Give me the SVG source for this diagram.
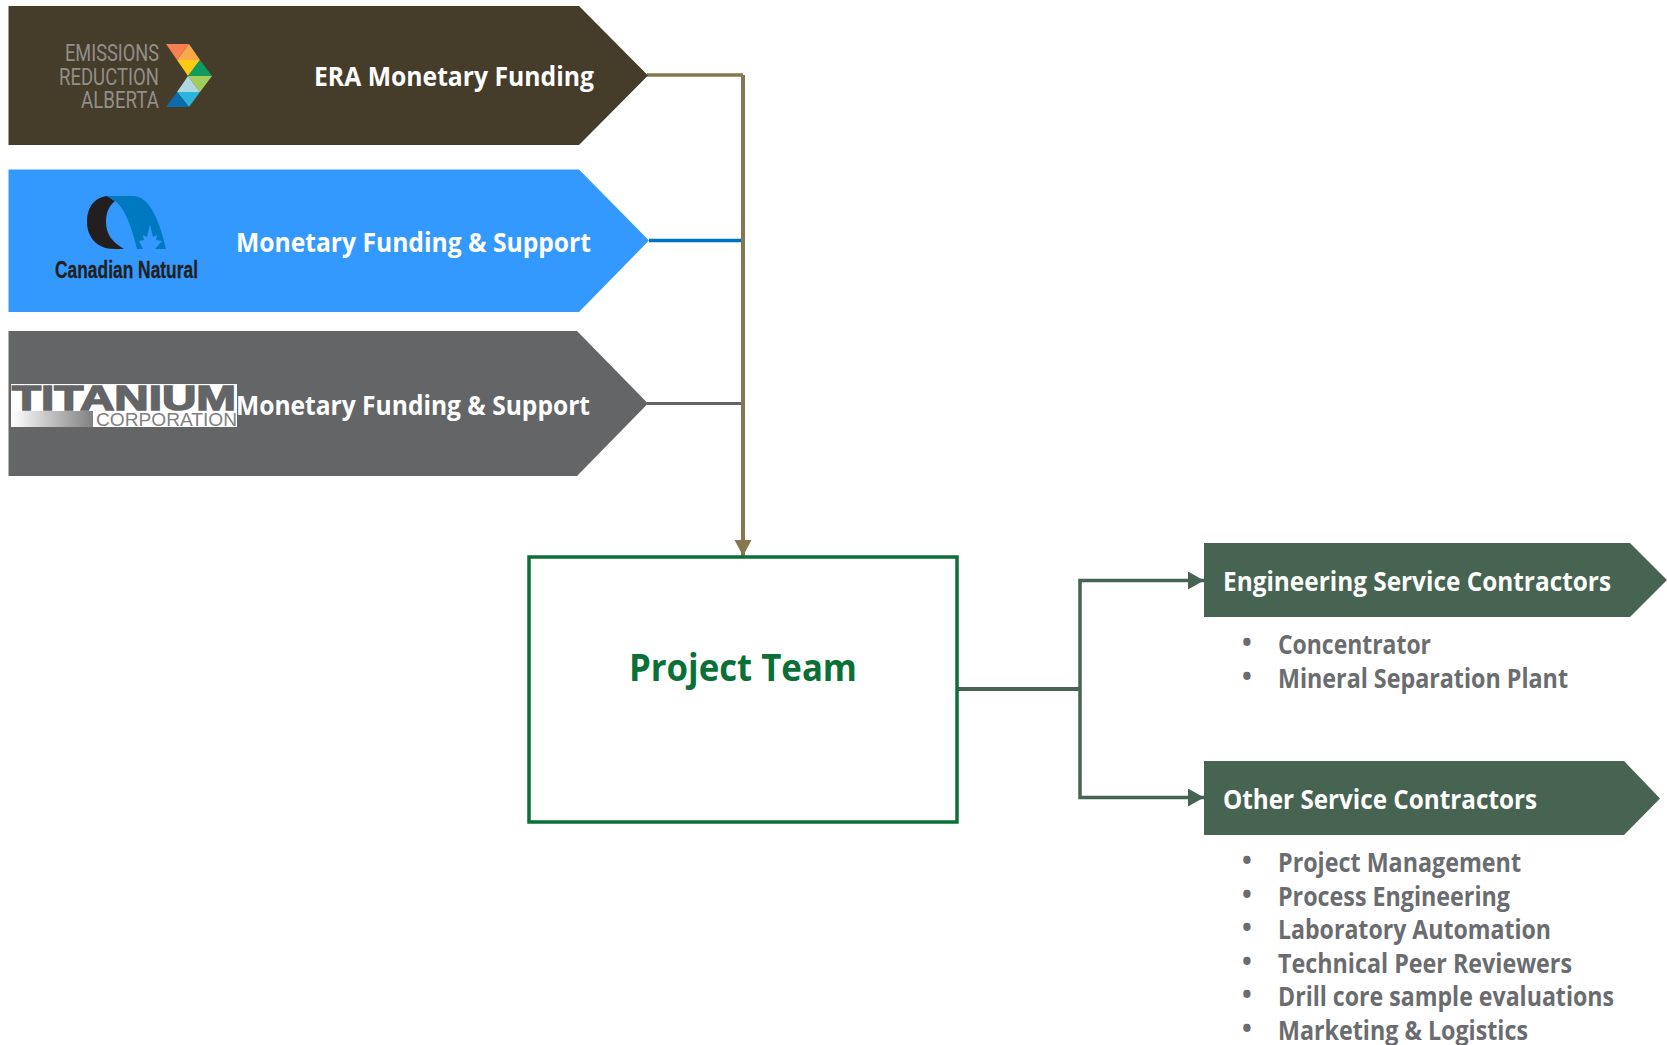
<svg xmlns="http://www.w3.org/2000/svg" width="1667" height="1045" viewBox="0 0 1667 1045">
<style>
text{font-family:"Open Sans","Noto Sans","Liberation Sans",sans-serif}
.h{font-size:26px;font-weight:700;fill:#fff}
.li{font-size:26px;font-weight:700;fill:#6a6c6f}
.b{font-size:26px;font-weight:700;fill:#6a6c6f}
.era{font-size:23px;fill:#928f8a;font-family:"Roboto","Liberation Sans",sans-serif}
</style>
<defs>
<marker id="tan" markerUnits="userSpaceOnUse" markerWidth="18" markerHeight="18" refX="16" refY="9" orient="auto"><path d="M0 0.500L16 9L0 17.500Z" fill="#857850"/></marker>
<marker id="grn" markerUnits="userSpaceOnUse" markerWidth="17" markerHeight="18" refX="16" refY="9" orient="auto"><path d="M0 0L16 9L0 18Z" fill="#476351"/></marker>
<linearGradient id="fade"><stop offset="0" stop-color="#fff"/><stop offset="1" stop-color="#808080"/></linearGradient>
</defs>
<rect width="1667" height="1045" fill="#fff"/>
<g id="connectors" fill="none">
<path d="M647 75H743" stroke="#857850" stroke-width="3.500"/>
<path d="M649 240.500H741" stroke="#0070c0" stroke-width="3.500"/>
<path d="M647 403.500H741" stroke="#646567" stroke-width="3"/>
<path d="M743 75V556" stroke="#857850" stroke-width="4" marker-end="url(#tan)"/>
<path d="M957 689H1080" stroke="#476351" stroke-width="4"/>
<path d="M1080 689V580.500H1204" stroke="#476351" stroke-width="3.500" marker-end="url(#grn)"/>
<path d="M1080 689V797.500H1204" stroke="#476351" stroke-width="3.500" marker-end="url(#grn)"/>
</g>
<g id="era">
<path d="M8.500 6H579L648 75.500L579 145H8.500Z" fill="#463c2a"/>
<text class="era" x="65" y="61" textLength="94" lengthAdjust="spacingAndGlyphs">EMISSIONS</text>
<text class="era" x="59" y="84.500" textLength="100" lengthAdjust="spacingAndGlyphs">REDUCTION</text>
<text class="era" x="81" y="108" textLength="78" lengthAdjust="spacingAndGlyphs">ALBERTA</text>
<path d="M166 44H189L177 60Z" fill="#f4814f"/>
<path d="M189 44L177 60H200Z" fill="#f9a94a"/>
<path d="M177 60H200L188 76Z" fill="#fcc917"/>
<path d="M200 60L212 76H188Z" fill="#0e9c5e"/>
<path d="M188 76H212L200 92Z" fill="#a2cd5a"/>
<path d="M188 76L200 92H177Z" fill="#add8e0"/>
<path d="M177 92H200L189 107Z" fill="#2bb5dc"/>
<path d="M177 92L189 107H166Z" fill="#0a6bad"/>
<text class="h" x="314" y="85.500" textLength="280" lengthAdjust="spacingAndGlyphs">ERA Monetary Funding</text>
</g>
<g id="canadian-natural">
<path d="M8.500 169.500H579L649 240.500L579 312H8.500Z" fill="#3399ff"/>
<path d="M107 196C92 198 87 210 87 222C87 238 98 249 114 249H124C112 242 106 234 106 222C106 212 109 206 115 201L107 196Z" fill="#231f20"/>
<path d="M107 196H133C150 196 160 222 166 249H137C132 228 125 208 115 201Z" fill="#0079c1"/>
<path d="M139 241L144 240L143 235L147 237L150 225L153 237L157 235L156 240L162 241L155 249H143Z" fill="#3399ff"/>
<text x="55" y="277.500" textLength="143" lengthAdjust="spacingAndGlyphs" font-size="23" font-weight="700" fill="#231f20" stroke="#231f20" stroke-width="0.300" style="font-family:'Liberation Sans',sans-serif">Canadian Natural</text>
<text class="h" x="236" y="251.500" textLength="355" lengthAdjust="spacingAndGlyphs">Monetary Funding &amp; Support</text>
</g>
<g id="titanium">
<path d="M8.500 331H577L648 403.500L577 476H8.500Z" fill="#646567"/>
<rect x="11" y="384" width="226" height="43" fill="#fff"/>
<rect x="11" y="411" width="82" height="16" fill="url(#fade)"/>
<text x="12" y="410" textLength="224" lengthAdjust="spacingAndGlyphs" font-size="35" font-weight="700" fill="#646567" stroke="#646567" stroke-width="1.500" style="font-family:'Liberation Sans',sans-serif">TITANIUM</text>
<text x="96" y="426" textLength="141" lengthAdjust="spacingAndGlyphs" font-size="18" fill="#808080" style="font-family:'Liberation Sans',sans-serif">CORPORATION</text>
<text class="h" x="236" y="414.500" textLength="354" lengthAdjust="spacingAndGlyphs">Monetary Funding &amp; Support</text>
</g>
<g id="project-team">
<rect x="529" y="557" width="428" height="265" fill="#fff" stroke="#0a7037" stroke-width="3.500"/>
<text x="743" y="681" text-anchor="middle" font-size="37" font-weight="700" fill="#0a7037" textLength="228" lengthAdjust="spacingAndGlyphs">Project Team</text>
</g>
<g id="engineering">
<path d="M1204 543H1630L1667 580L1630 617H1204Z" fill="#476351"/>
<text class="h" x="1223" y="590.500" textLength="388" lengthAdjust="spacingAndGlyphs">Engineering Service Contractors</text>
<text class="b" x="1242" y="652">•</text>
<text class="li" x="1278" y="653.500" textLength="153" lengthAdjust="spacingAndGlyphs">Concentrator</text>
<text class="b" x="1242" y="686">•</text>
<text class="li" x="1278" y="687.500" textLength="290" lengthAdjust="spacingAndGlyphs">Mineral Separation Plant</text>
</g>
<g id="other">
<path d="M1204 761H1624L1660 798.500L1624 835H1204Z" fill="#476351"/>
<text class="h" x="1223" y="808.500" textLength="314" lengthAdjust="spacingAndGlyphs">Other Service Contractors</text>
<text class="b" x="1242" y="870">•</text>
<text class="li" x="1278" y="871.500" textLength="243" lengthAdjust="spacingAndGlyphs">Project Management</text>
<text class="b" x="1242" y="904">•</text>
<text class="li" x="1278" y="905.500" textLength="232" lengthAdjust="spacingAndGlyphs">Process Engineering</text>
<text class="b" x="1242" y="937">•</text>
<text class="li" x="1278" y="938.500" textLength="273" lengthAdjust="spacingAndGlyphs">Laboratory Automation</text>
<text class="b" x="1242" y="971">•</text>
<text class="li" x="1278" y="972.500" textLength="294" lengthAdjust="spacingAndGlyphs">Technical Peer Reviewers</text>
<text class="b" x="1242" y="1004">•</text>
<text class="li" x="1278" y="1005.500" textLength="336" lengthAdjust="spacingAndGlyphs">Drill core sample evaluations</text>
<text class="b" x="1242" y="1038">•</text>
<text class="li" x="1278" y="1039.500" textLength="250" lengthAdjust="spacingAndGlyphs">Marketing &amp; Logistics</text>
</g>
</svg>
